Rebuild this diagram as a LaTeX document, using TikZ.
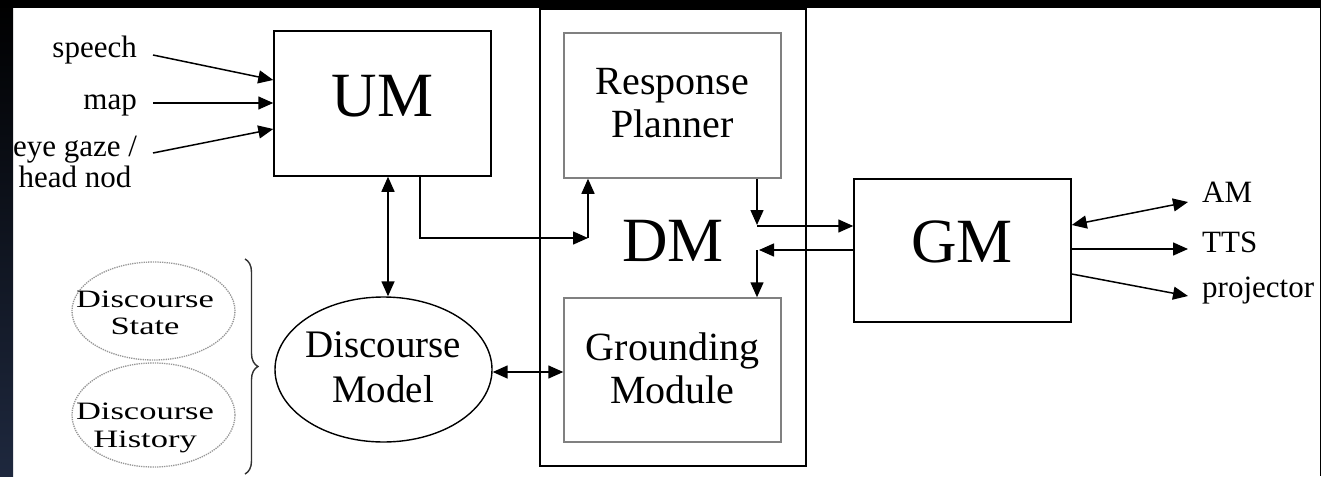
\documentclass[tikz,border=0pt]{standalone}
\usepackage{fontspec}
\setmainfont{Liberation Serif}
\newfontfamily\widefont[FakeStretch=1.38]{Liberation Serif}
\usetikzlibrary{arrows.meta,decorations.pathreplacing,shapes.geometric}
\definecolor{framenavy}{RGB}{30,40,62}
\definecolor{innergray}{RGB}{128,128,128}
\definecolor{dotgray}{RGB}{150,150,150}
\definecolor{bracegray}{RGB}{50,50,50}
\begin{document}
\begin{tikzpicture}[x=1pt,y=-1pt,
  modbox/.style={draw=black,line width=1.5pt,rectangle,inner sep=0pt,fill=none},
  subbox/.style={draw=innergray,line width=1.5pt,rectangle,inner sep=0pt},
  bigtxt/.style={inner sep=0pt,font=\fontsize{63}{63}\selectfont},
  midtxt/.style={inner sep=0pt,align=center,font=\fontsize{40}{43}\selectfont},
  lbl/.style={inner sep=0pt,font=\fontsize{31}{31}\selectfont},
  widetxt/.style={inner sep=0pt,align=center,font=\widefont\fontsize{25}{27.5}\selectfont},
  store/.style={shape=ellipse,draw=dotgray,line width=1.3pt,densely dotted,inner sep=0pt},
  arr/.style={line width=1.5pt,-{Triangle[length=15pt,width=13pt]}},
  dbl/.style={line width=1.5pt,{Triangle[length=15pt,width=13pt]}-{Triangle[length=15pt,width=13pt]}}
]
\useasboundingbox (0,0) rectangle (1321,476);
\fill[white] (0,0) rectangle (1321,476);

% main modules
\node[modbox,minimum width=217pt,minimum height=145pt] (UM) at (382.5,103.5) {};
\node[bigtxt,anchor=base] (UMt) at (382.5,117) {UM};

\node[modbox,minimum width=266pt,minimum height=457pt] (DM) at (673,237.5) {};
\node[bigtxt,anchor=base] (DMt) at (673,261) {DM};

\node[subbox,minimum width=217pt,minimum height=145pt] (RP) at (672.5,105.5) {};
\node[midtxt] (RPt) at (672.5,103.3) {Response\\Planner};

\node[subbox,minimum width=217pt,minimum height=144pt] (GrM) at (672.5,370) {};
\node[midtxt] (GrMt) at (672.5,367.9) {Grounding\\Module};

\node[modbox,minimum width=217pt,minimum height=143pt] (GM) at (962.5,250.5) {};
\node[bigtxt,anchor=base] (GMt) at (962,262) {GM};

% discourse model and its stores
\node[shape=ellipse,draw=black,line width=1.4pt,inner sep=0pt,
      minimum width=217pt,minimum height=145pt] (DMod) at (383.5,369.5) {};
\node[midtxt,font=\fontsize{39}{45}\selectfont] (DModt) at (383,367.2) {Discourse\\Model};

\node[store,minimum width=163pt,minimum height=98pt] (DS) at (153.5,311) {};
\node[widetxt] (DSt) at (145,313) {Discourse\\State};
\node[store,minimum width=163pt,minimum height=104pt] (DH) at (153.5,415) {};
\node[widetxt] (DHt) at (145,428) {Discourse\\History};

\coordinate (braceTop) at (245,259);
\coordinate (braceBot) at (245,474);
\draw[bracegray,line width=1.4pt,decorate,decoration={brace,amplitude=13pt}] (braceTop) -- (braceBot);

% inputs
\node[lbl,anchor=base east] (speech) at (137,58) {speech};
\node[lbl,anchor=base east] (map) at (137,110) {map};
\node[lbl,align=center] (eye) at (75,162) {eye gaze /\\head nod};
\coordinate (inA) at (153,55);
\coordinate (inB) at (153,103);
\coordinate (inC) at (153,153);
\draw[arr] (inA) -- ([yshift=23.5pt]UM.west);
\draw[arr] (inB) -- (inB -| UM.west);
\draw[arr] (inC) -- ([yshift=-25.5pt]UM.west);

% outputs
\node[lbl,anchor=base west] (AM) at (1202,202) {AM};
\node[lbl,anchor=base west] (TTS) at (1202,252) {TTS};
\node[lbl,anchor=base west] (proj) at (1202,297) {projector};
\coordinate (outA) at (1188,202);
\coordinate (outB) at (1188,249);
\coordinate (outC) at (1188,296);
\draw[dbl] ([yshift=25.5pt]GM.east) -- (outA);
\draw[arr] (GM.east |- outB) -- (outB);
\draw[arr] ([yshift=-23.5pt]GM.east) -- (outC);

% UM to DM and the planner
\coordinate (jIn) at (588,238);
\draw[arr] ([xshift=37.5pt]UM.south) |- (jIn);
\draw[arr] (jIn) -- (jIn |- RP.south);

% UM and discourse model
\draw[dbl] ([xshift=5.5pt]UM.south) -- ([xshift=5.5pt]UM.south |- DMod.north);

% discourse model and grounding module
\draw[dbl] ([yshift=-2.5pt]DMod.east) -- ([yshift=-2.5pt]DMod.east -| GrM.west);

% DM and GM exchange
\coordinate (jOut) at (757,225);
\coordinate (jBack) at (757,250);
\draw[arr] (RP.south -| jOut) -- (jOut);
\draw[arr] ([yshift=-1pt]jOut) -- ([yshift=-1pt]jOut -| GM.west);
\draw[arr] (jBack -| GM.west) -- ([xshift=2pt]jBack);
\draw[arr] (jBack) -- (jBack |- GrM.north);

% slide frame
\shade[top color=black,bottom color=framenavy] (0,0) rectangle (13,476);
\fill[black] (0,0) rectangle (1321,8);
\fill[black] (1320,0) rectangle (1321,476);
\end{tikzpicture}
\end{document}
